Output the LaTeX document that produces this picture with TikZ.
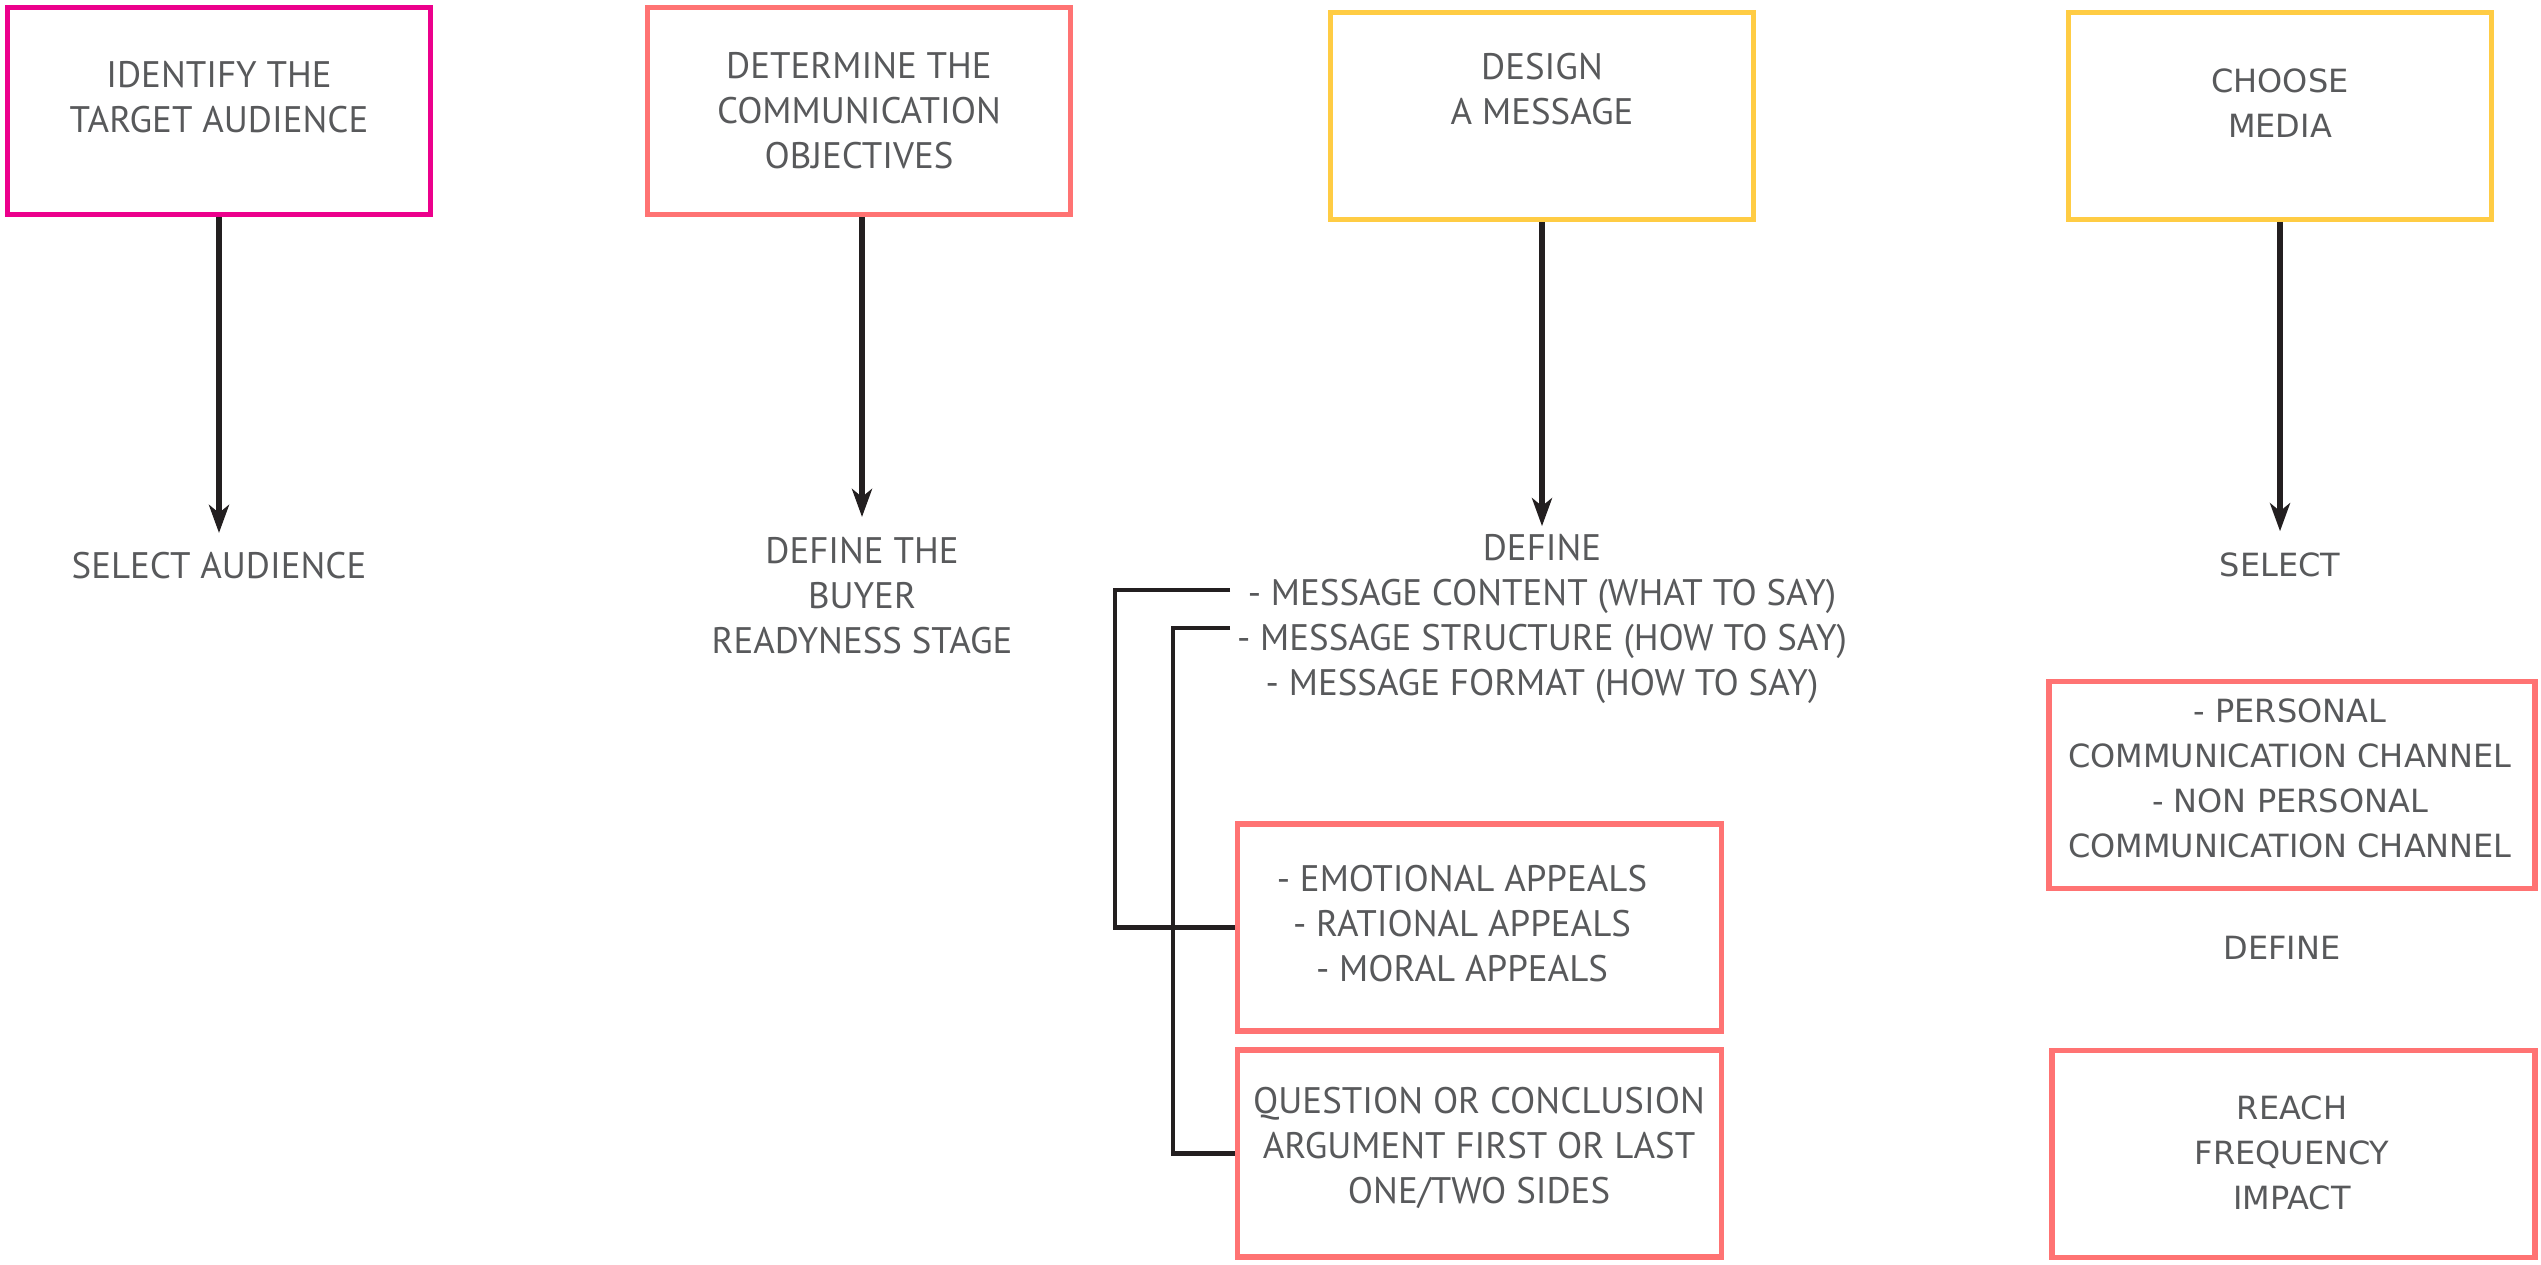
\documentclass[tikz,border=0pt]{standalone}
\usepackage{fontspec}
\setmainfont{PT Sans}
\newfontfamily\widefont{DejaVu Sans}
\usetikzlibrary{arrows.meta}
\definecolor{boxpink}{RGB}{236,0,140}
\definecolor{boxsalmon}{RGB}{255,115,115}
\definecolor{boxyellow}{RGB}{255,204,68}
\definecolor{txtgray}{RGB}{88,89,91}
\definecolor{arrowblack}{RGB}{35,31,32}
\begin{document}
\begin{tikzpicture}
% Styles
\tikzset{stagebox/.style={draw=#1,line width=1.5pt,minimum width=4.23cm,minimum height=2.07cm,inner sep=0pt}}
\tikzset{appealbox/.style={draw=boxsalmon,line width=1.5pt,minimum width=4.84cm,minimum height=2.07cm,inner sep=0pt}}
\tikzset{lbl/.style={text=txtgray,align=center,inner sep=0pt,font=\fontsize{10.5}{12.8}\selectfont}}
\tikzset{widelbl/.style={text=txtgray,align=center,inner sep=0pt,font=\widefont\fontsize{9.1}{12.8}\selectfont}}
\tikzset{flow/.style={arrowblack,line width=1.6pt,-{Stealth[length=0.28cm,width=0.2cm,inset=0.08cm]}}}
\tikzset{bracket/.style={arrowblack,line width=1.4pt}}
\useasboundingbox (0,0) rectangle (25.41,-12.64);

% the four stages -- top row
\node[stagebox=boxpink] (target) at (2.19,-1.11) {};
\node[stagebox=boxsalmon] (objectives) at (8.59,-1.11) {};
\node[stagebox=boxyellow] (message) at (15.42,-1.16) {};
\node[stagebox=boxyellow] (media) at (22.80,-1.16) {};

\node[lbl] at (2.19,-0.97) {IDENTIFY THE\\TARGET AUDIENCE};
\node[lbl] at (8.59,-1.11) {DETERMINE THE\\COMMUNICATION\\OBJECTIVES};
\node[lbl] at (15.42,-0.89) {DESIGN\\A MESSAGE};
\node[widelbl] at (22.80,-1.03) {CHOOSE\\MEDIA};

% what each stage leads to
\node[lbl] (audience) at (2.19,-5.66) {SELECT AUDIENCE};
\node[lbl] (buyer) at (8.62,-5.96) {DEFINE THE\\BUYER\\READYNESS STAGE};
\node[lbl] (define) at (15.42,-6.185) {DEFINE\\- MESSAGE CONTENT (WHAT TO SAY)\\- MESSAGE STRUCTURE (HOW TO SAY)\\- MESSAGE FORMAT (HOW TO SAY)};
\node[widelbl] (select) at (22.80,-5.65) {SELECT};

\draw[flow,shorten >=0.19cm] (target) -- (audience);
\draw[flow,shorten >=0.20cm] (objectives.south -| buyer.north) -- (buyer);
\draw[flow,shorten >=0.07cm] (message) -- (define);
\draw[flow,shorten >=0.21cm] (media) -- (select);

% message boxes
\node[appealbox] (appeals) at (14.795,-9.275) {};
\node[appealbox] (structure) at (14.795,-11.535) {};
\node[lbl] at (14.62,-9.24) {- EMOTIONAL APPEALS\\- RATIONAL APPEALS\\- MORAL APPEALS};
\node[lbl] at (14.79,-11.48) {QUESTION OR CONCLUSION\\ARGUMENT FIRST OR LAST\\ONE/TWO SIDES};

% brackets
\coordinate (content) at (12.30,-5.90);
\coordinate (struct) at (12.30,-6.28);
\draw[bracket] (content) -- ++(-1.15,0) |- (appeals.west);
\draw[bracket] (struct) -- ++(-0.57,0) |- (structure.west);

% media boxes
\node[appealbox,minimum width=4.86cm] (channels) at (22.92,-7.85) {};
\node[appealbox,minimum width=4.83cm] (reach) at (22.935,-11.54) {};
\node[widelbl] at (22.90,-7.78) {- PERSONAL\\COMMUNICATION CHANNEL\\- NON PERSONAL\\COMMUNICATION CHANNEL};
\node[widelbl] at (22.82,-9.48) {DEFINE};
\node[widelbl] at (22.92,-11.53) {REACH\\FREQUENCY\\IMPACT};
\end{tikzpicture}
\end{document}
